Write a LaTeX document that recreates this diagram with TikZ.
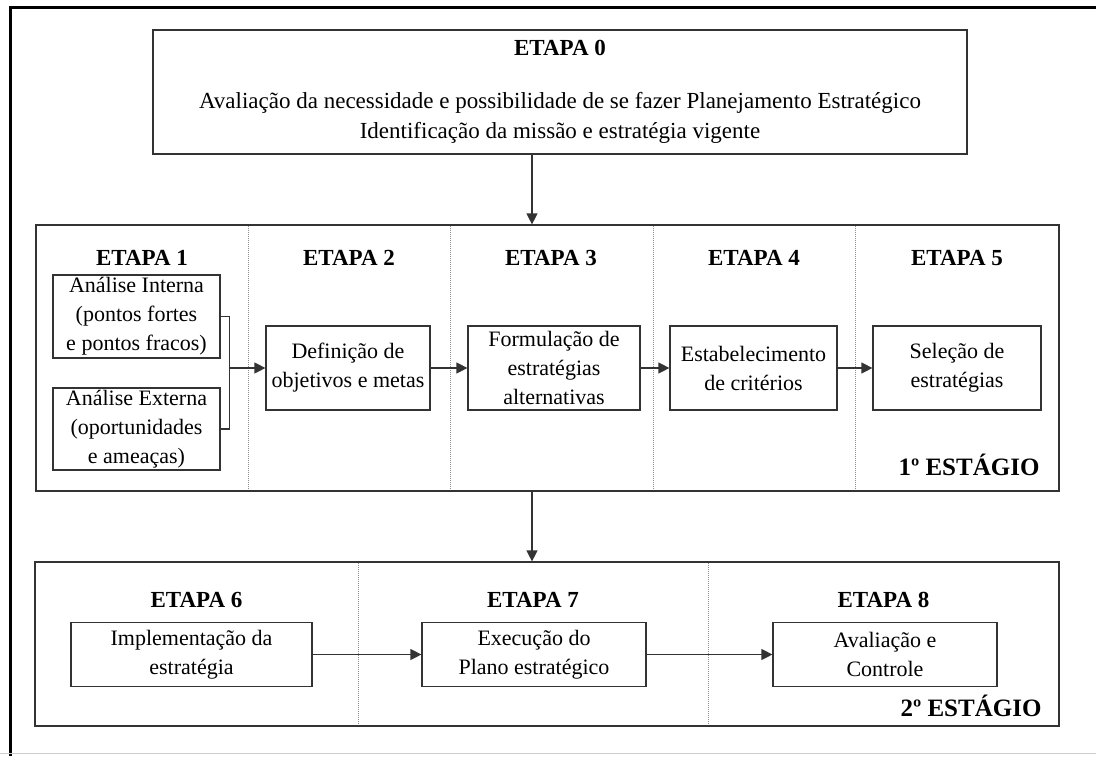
\documentclass[tikz,border=0pt]{standalone}
\usepackage{fontspec}
\setmainfont{Liberation Serif}
\usetikzlibrary{arrows.meta}
\begin{document}
\begin{tikzpicture}[x=1pt,y=-1pt,
    font=\fontsize{22}{29}\selectfont,
    box/.style={draw=black!80, line width=1.2pt, align=center, inner sep=1pt},
    sep/.style={black!45, line width=1pt, densely dotted},
    head/.style={font=\fontsize{23}{29}\selectfont\bfseries},
    stagename/.style={font=\fontsize{25}{30}\selectfont\bfseries, anchor=east},
    link/.style={draw=black!80, line width=1.2pt},
    flow/.style={link, -{Triangle[length=11pt,width=11pt]}}]
  \useasboundingbox (0,0) rectangle (1096,756);
  \draw[line width=3pt] (1096,7) -- (10,7) -- (10,756);
  \draw[black!20, line width=1pt] (0,753) -- (1096,753);
  % etapa 0
  \node[box, minimum width=814pt, minimum height=124pt,
        font=\fontsize{23}{30}\selectfont] (e0) at (560,92)
    {\textbf{ETAPA 0}\\[23pt]
     Avaliação da necessidade e possibilidade de se fazer Planejamento Estratégico\\
     Identificação da missão e estratégia vigente};
  % 1o estagio
  \node[box, minimum width=1023pt, minimum height=266pt] (s1) at (547.5,358) {};
  \foreach \x in {248,450,653,855} \draw[sep] (\x,226) -- (\x,490);
  \node[head] (h1) at (142,258) {ETAPA 1};
  \node[head] (h2) at (349,258) {ETAPA 2};
  \node[head] (h3) at (551,258) {ETAPA 3};
  \node[head] (h4) at (754,258) {ETAPA 4};
  \node[head] (h5) at (957,258) {ETAPA 5};
  \node[box, minimum width=167pt, minimum height=83pt] (ai) at (136.5,316.5)
    {Análise Interna\\(pontos fortes\\e pontos fracos)};
  \node[box, minimum width=167pt, minimum height=82pt] (ae) at (136.5,429)
    {Análise Externa\\(oportunidades\\e ameaças)};
  \node[box, minimum width=164pt, minimum height=84pt] (def) at (348,368)
    {Definição de\\objetivos e metas};
  \node[box, minimum width=172pt, minimum height=84pt] (form) at (554,368)
    {Formulação de\\estratégias\\alternativas};
  \node[box, minimum width=167pt, minimum height=84pt] (crit) at (753.5,368)
    {Estabelecimento\\de critérios};
  \node[box, minimum width=168pt, minimum height=84pt] (sel) at (957,368)
    {Seleção de\\estratégias};
  \node[stagename] (st1) at (1043,465) {1º ESTÁGIO};
  \coordinate (br) at (229,368);
  \draw[link] (ai.east) -- ++(9,0) |- (ae.east);
  \draw[flow] (br) -- (def.west);
  \draw[flow] (def.east) -- (form.west);
  \draw[flow] (form.east) -- (crit.west);
  \draw[flow] (crit.east) -- (sel.west);
  % 2o estagio
  \node[box, minimum width=1024pt, minimum height=164pt] (s2) at (547,644) {};
  \foreach \x in {358,708} \draw[sep] (\x,563) -- (\x,725);
  \node[head] (h6) at (196.5,600) {ETAPA 6};
  \node[head] (h7) at (533,600) {ETAPA 7};
  \node[head] (h8) at (883.5,600) {ETAPA 8};
  \node[box, minimum width=241pt, minimum height=64pt] (impl) at (191.5,654.5)
    {Implementação da\\estratégia};
  \node[box, minimum width=224pt, minimum height=64pt] (exec) at (534,654.5)
    {Execução do\\Plano estratégico};
  \node[box, minimum width=224pt, minimum height=64pt] (aval) at (885,654.5)
    {Avaliação e\\Controle};
  \node[stagename] (st2) at (1045,706) {2º ESTÁGIO};
  \draw[flow] (impl.east) -- (exec.west);
  \draw[flow] (exec.east) -- (aval.west);
  % ligacoes entre estagios
  \coordinate (ax) at (532,0);
  \draw[flow] (e0.south -| ax) -- (s1.north -| ax);
  \draw[flow] (s1.south -| ax) -- (s2.north -| ax);
\end{tikzpicture}
\end{document}
